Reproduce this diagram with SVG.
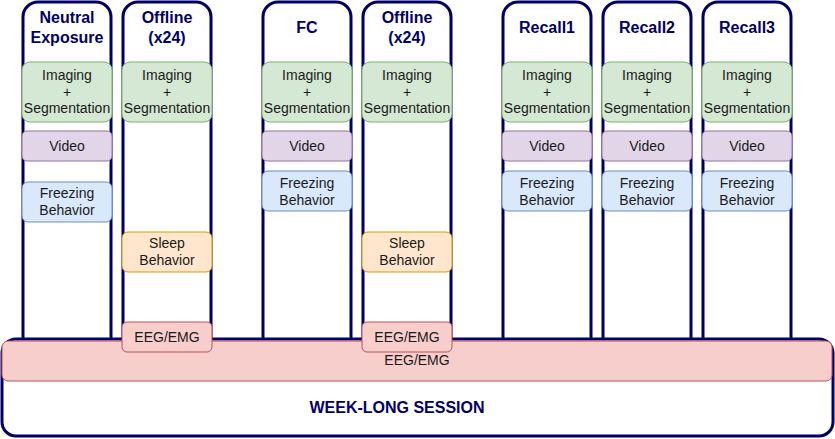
<svg xmlns="http://www.w3.org/2000/svg" width="835" height="439" viewBox="0 0 835 439">
<style>
.col{fill:#ffffff;stroke:#000066;stroke-width:3}
.title{font-family:"Liberation Sans",Arial,sans-serif;font-size:16px;font-weight:bold;fill:#000066;text-anchor:middle}
.t{font-family:"Liberation Sans",Arial,sans-serif;font-size:14px;fill:#1a1a1a;text-anchor:middle}
.img{fill:#d5e8d4;stroke:#82b366;stroke-width:1}
.vid{fill:#e1d5e7;stroke:#9673a6;stroke-width:1}
.frz{fill:#dae8fc;stroke:#6c8ebf;stroke-width:1}
.slp{fill:#ffe6cc;stroke:#d79b00;stroke-width:1}
.eeg{fill:#f8cecc;stroke:#b85450;stroke-width:1}
</style>
<g id="col-neutral">
<rect class="col" x="23" y="2" width="88" height="360" rx="15"/>
<text class="title" x="67" y="23">Neutral</text>
<text class="title" x="67" y="43">Exposure</text>
<rect class="img" x="22" y="62" width="90" height="60" rx="8"/>
<text class="t" x="67" y="80">Imaging</text><text class="t" x="67" y="97">+</text><text class="t" x="67" y="113">Segmentation</text>
<rect class="vid" x="22" y="131" width="90" height="30" rx="5"/>
<text class="t" x="67" y="151">Video</text>
<rect class="frz" x="22" y="182" width="90" height="40" rx="6"/>
<text class="t" x="67" y="198">Freezing</text><text class="t" x="67" y="215">Behavior</text>
</g>
<g id="col-offline1">
<rect class="col" x="123" y="2" width="88" height="360" rx="15"/>
<text class="title" x="167" y="23">Offline</text>
<text class="title" x="167" y="43">(x24)</text>
<rect class="img" x="122" y="62" width="90" height="60" rx="8"/>
<text class="t" x="167" y="80">Imaging</text><text class="t" x="167" y="97">+</text><text class="t" x="167" y="113">Segmentation</text>
<rect class="slp" x="122" y="232" width="90" height="40" rx="6"/>
<text class="t" x="167" y="248">Sleep</text><text class="t" x="167" y="265">Behavior</text>
</g>
<g id="col-fc">
<rect class="col" x="263" y="2" width="88" height="360" rx="15"/>
<text class="title" x="307" y="33">FC</text>
<rect class="img" x="262" y="62" width="90" height="60" rx="8"/>
<text class="t" x="307" y="80">Imaging</text><text class="t" x="307" y="97">+</text><text class="t" x="307" y="113">Segmentation</text>
<rect class="vid" x="262" y="131" width="90" height="30" rx="5"/>
<text class="t" x="307" y="151">Video</text>
<rect class="frz" x="262" y="171" width="90" height="40" rx="6"/>
<text class="t" x="307" y="188">Freezing</text><text class="t" x="307" y="205">Behavior</text>
</g>
<g id="col-offline2">
<rect class="col" x="363" y="2" width="88" height="360" rx="15"/>
<text class="title" x="407" y="23">Offline</text>
<text class="title" x="407" y="43">(x24)</text>
<rect class="img" x="362" y="62" width="90" height="60" rx="8"/>
<text class="t" x="407" y="80">Imaging</text><text class="t" x="407" y="97">+</text><text class="t" x="407" y="113">Segmentation</text>
<rect class="slp" x="362" y="232" width="90" height="40" rx="6"/>
<text class="t" x="407" y="248">Sleep</text><text class="t" x="407" y="265">Behavior</text>
</g>
<g id="col-recall1">
<rect class="col" x="503" y="2" width="88" height="360" rx="15"/>
<text class="title" x="547" y="33">Recall1</text>
<rect class="img" x="502" y="62" width="90" height="60" rx="8"/>
<text class="t" x="547" y="80">Imaging</text><text class="t" x="547" y="97">+</text><text class="t" x="547" y="113">Segmentation</text>
<rect class="vid" x="502" y="131" width="90" height="30" rx="5"/>
<text class="t" x="547" y="151">Video</text>
<rect class="frz" x="502" y="171" width="90" height="40" rx="6"/>
<text class="t" x="547" y="188">Freezing</text><text class="t" x="547" y="205">Behavior</text>
</g>
<g id="col-recall2">
<rect class="col" x="603" y="2" width="88" height="360" rx="15"/>
<text class="title" x="647" y="33">Recall2</text>
<rect class="img" x="602" y="62" width="90" height="60" rx="8"/>
<text class="t" x="647" y="80">Imaging</text><text class="t" x="647" y="97">+</text><text class="t" x="647" y="113">Segmentation</text>
<rect class="vid" x="602" y="131" width="90" height="30" rx="5"/>
<text class="t" x="647" y="151">Video</text>
<rect class="frz" x="602" y="171" width="90" height="40" rx="6"/>
<text class="t" x="647" y="188">Freezing</text><text class="t" x="647" y="205">Behavior</text>
</g>
<g id="col-recall3">
<rect class="col" x="703" y="2" width="88" height="360" rx="15"/>
<text class="title" x="747" y="33">Recall3</text>
<rect class="img" x="702" y="62" width="90" height="60" rx="8"/>
<text class="t" x="747" y="80">Imaging</text><text class="t" x="747" y="97">+</text><text class="t" x="747" y="113">Segmentation</text>
<rect class="vid" x="702" y="131" width="90" height="30" rx="5"/>
<text class="t" x="747" y="151">Video</text>
<rect class="frz" x="702" y="171" width="90" height="40" rx="6"/>
<text class="t" x="747" y="188">Freezing</text><text class="t" x="747" y="205">Behavior</text>
</g>
<g id="session">
<rect class="col" x="2" y="339" width="831" height="97" rx="14"/>
<rect class="eeg" x="2" y="341" width="830" height="40" rx="6"/>
<text class="t" x="417" y="365">EEG/EMG</text>
<text class="title" x="397" y="413">WEEK-LONG SESSION</text>
</g>
<g id="eeg-offline1">
<rect class="eeg" x="122" y="322" width="90" height="30" rx="5"/>
<text class="t" x="167" y="342">EEG/EMG</text>
</g>
<g id="eeg-offline2">
<rect class="eeg" x="362" y="322" width="90" height="30" rx="5"/>
<text class="t" x="407" y="342">EEG/EMG</text>
</g>
<g id="connectors"></g>
</svg>
